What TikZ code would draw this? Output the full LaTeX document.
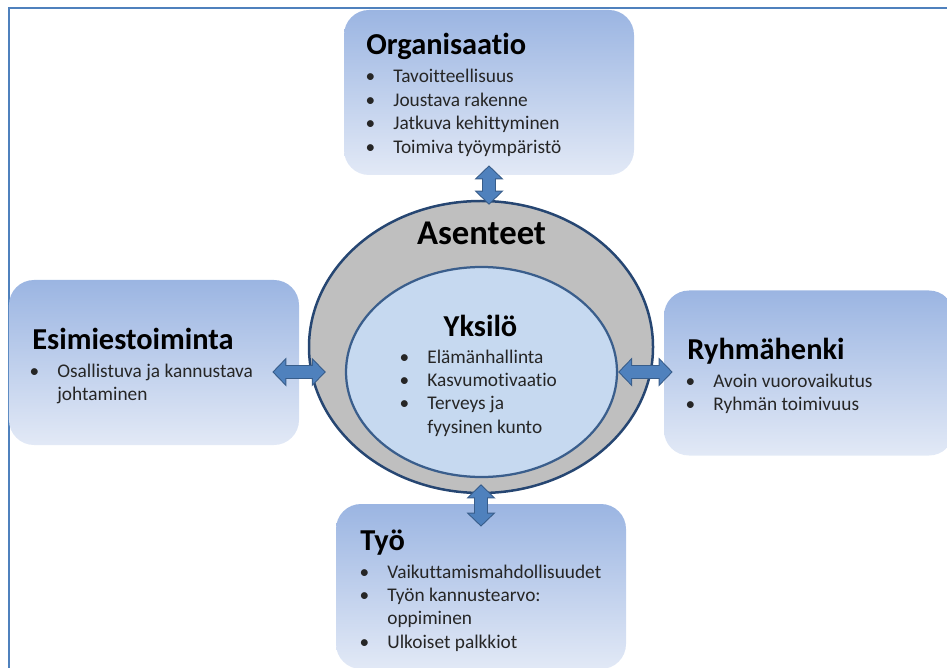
\documentclass[tikz,border=0pt]{standalone}
\usepackage{fontspec}
\setmainfont{Carlito}[Ligatures=NoCommon]
\usetikzlibrary{shapes.geometric,arrows.meta,positioning}
\definecolor{frameblue}{RGB}{79,129,189}
\definecolor{arrowfill}{RGB}{79,129,189}
\definecolor{arrowedge}{RGB}{56,93,138}
\definecolor{boxtop}{RGB}{155,181,226}
\definecolor{boxbottom}{RGB}{226,233,246}
\definecolor{ringgray}{RGB}{191,191,191}
\definecolor{ringedge}{RGB}{38,70,114}
\definecolor{corefill}{RGB}{198,217,240}
\definecolor{coreedge}{RGB}{58,94,140}
\definecolor{textgray}{RGB}{38,38,38}

\newcommand{\bul}{\makebox[9.2mm]{\textbullet}}

\tikzset{
  infobox/.style={rounded corners=5mm, top color=boxtop, bottom color=boxbottom,
    minimum width=58mm, minimum height=33mm, inner sep=0pt},
  heading/.style={anchor=base west, inner sep=0pt, font=\bfseries\fontsize{17.3}{20}\selectfont},
  itemlist/.style={anchor=base west, inner sep=0pt, text=textgray, font=\fontsize{11}{13.3}\selectfont},
  blockarrow/.style 2 args={
    preaction={draw=arrowedge, line width=2.8mm,
      {Triangle[width=5.8mm,length=2.8mm,line width=0pt]}-{Triangle[width=5.8mm,length=2.8mm,line width=0pt]},
      shorten <=-#1, shorten >=-#2},
    draw=arrowfill, line width=2.4mm,
    {Triangle[width=4.8mm,length=2.3mm,line width=0pt]}-{Triangle[width=4.8mm,length=2.3mm,line width=0pt]},
    shorten <=-#1+0.3mm, shorten >=-#2+0.3mm}
}

\begin{document}
\begin{tikzpicture}[x=0.2mm,y=-0.2mm]
  \useasboundingbox (0,0) rectangle (947,668);

  % Frame
  \draw[frameblue,line width=0.4mm] (8.5,668) -- (8.5,7.8) -- (947,7.8);

  % Boxes
  \node[infobox] (org) at (489,92.5) {};
  \node[infobox] (esim) at (154,362.5) {};
  \node[infobox] (ryhma) at (809,373) {};
  \node[infobox] (tyo) at (481,586.5) {};

  % Ellipses
  \node[ellipse, draw=ringedge, line width=0.5mm, fill=ringgray, inner sep=0pt,
    minimum width=68.8mm, minimum height=58.4mm] (asenteet) at (481,347) {};
  \node[ellipse, draw=coreedge, line width=0.45mm, fill=corefill, inner sep=0pt,
    minimum width=54.2mm, minimum height=42mm] (yksilo) at (481.5,372) {};

  % Texts
  \node[heading] (orgtitle) at (366,55) {Organisaatio};
  \node[itemlist] (orglist) at (347,83) {\begin{tabular}[t]{@{}l@{}l@{}}
    \bul & Tavoitteellisuus\\ \bul & Joustava rakenne\\
    \bul & Jatkuva kehittyminen\\ \bul & Toimiva työympäristö\end{tabular}};

  \node[heading] (esimtitle) at (32,349) {Esimiestoiminta};
  \node[itemlist] (esimlist) at (11,377) {\begin{tabular}[t]{@{}l@{}l@{}}
    \bul & Osallistuva ja kannustava\\ & johtaminen\end{tabular}};

  \node[heading] (ryhmatitle) at (687,359) {Ryhmähenki};
  \node[itemlist] (ryhmalist) at (667,387) {\begin{tabular}[t]{@{}l@{}l@{}}
    \bul & Avoin vuorovaikutus\\ \bul & Ryhmän toimivuus\end{tabular}};

  \node[heading] (tyotitle) at (360,550) {Työ};
  \node[itemlist] (tyolist) at (341,578) {\begin{tabular}[t]{@{}l@{}l@{}}
    \bul & Vaikuttamismahdollisuudet\\ \bul & Työn kannustearvo:\\
    & oppiminen\\ \bul & Ulkoiset palkkiot\end{tabular}};

  \node[anchor=base, inner sep=0pt, font=\bfseries\fontsize{19.75}{23}\selectfont]
    (asenteettitle) at (481.5,245) {Asenteet};
  \node[anchor=base, inner sep=0pt, font=\bfseries\fontsize{17.3}{20}\selectfont]
    (yksilotitle) at (480.5,336) {Yksilö};
  \node[itemlist] (yksilolist) at (381,363) {\begin{tabular}[t]{@{}l@{}l@{}}
    \bul & Elämänhallinta\\ \bul & Kasvumotivaatio\\
    \bul & Terveys ja\\ & fyysinen kunto\end{tabular}};

  % Arrows
  \draw[blockarrow={2mm}{1mm}] (org.south) -- (org.south |- asenteet.north);
  \draw[blockarrow={2mm}{4.6mm}] (asenteet.south) -- (tyo.north);
  \draw[blockarrow={5.4mm}{3.6mm}] (esim.east |- yksilo.west) -- (asenteet.west |- yksilo.west);
  \draw[blockarrow={0mm}{1.8mm}] (yksilo.east) -- (ryhma.west |- yksilo.east);
\end{tikzpicture}
\end{document}
